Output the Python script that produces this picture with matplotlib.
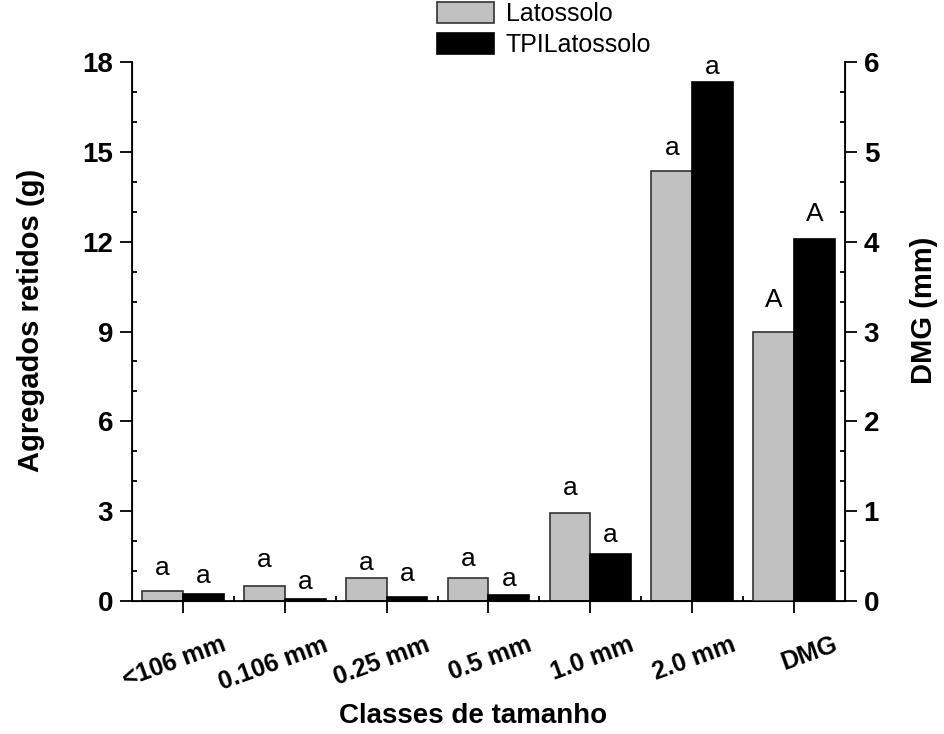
import numpy as np
import matplotlib
matplotlib.use('Agg')
import matplotlib.pyplot as plt
from matplotlib.ticker import MultipleLocator, FixedLocator
from matplotlib.transforms import ScaledTranslation

plt.rcParams['font.family'] = ['Liberation Sans', 'DejaVu Sans']

# Data
classes = ['<106 mm', '0.106 mm', '0.25 mm', '0.5 mm', '1.0 mm', '2.0 mm', 'DMG']
latossolo = [0.33, 0.49, 0.76, 0.77, 2.93, 14.37]   # g
tpi_latossolo = [0.23, 0.08, 0.13, 0.19, 1.57, 17.32]   # g
dmg_latossolo = 2.99   # mm
dmg_tpi = 4.03   # mm

# letters and the heights (baseline) where they sit
letters_lat = ['a', 'a', 'a', 'a', 'a', 'a']
letters_tpi = ['a', 'a', 'a', 'a', 'a', 'a']
letter_y_lat = [0.87, 1.14, 1.04, 1.17, 3.54, 14.9]
letter_y_tpi = [0.60, 0.40, 0.67, 0.50, 1.97, 17.6]
dmg_letters = ['A', 'A']
dmg_letter_y = [3.27, 4.23]

gray = '#c0c0c0'
w = 0.4

fig = plt.figure(figsize=(9.45, 7.34), dpi=100)
ax = fig.add_axes([132/945, 1 - 601/734, (845 - 132)/945, (601 - 62)/734])
ax2 = ax.twinx()

x = np.arange(len(latossolo))
ax.bar(x - w/2, latossolo, w, color=gray, edgecolor='#333333', linewidth=1.2, label='Latossolo')
ax.bar(x + w/2, tpi_latossolo, w, color='black', edgecolor='black', linewidth=1.2, label='TPILatossolo')

xd = len(latossolo)
ax2.bar(xd - w/2, dmg_latossolo, w, color=gray, edgecolor='#333333', linewidth=1.2)
ax2.bar(xd + w/2, dmg_tpi, w, color='black', edgecolor='black', linewidth=1.2)

for i in range(len(latossolo)):
    ax.text(x[i] - w/2, letter_y_lat[i], letters_lat[i], ha='center', va='baseline', fontsize=19)
    ax.text(x[i] + w/2, letter_y_tpi[i], letters_tpi[i], ha='center', va='baseline', fontsize=19)
ax2.text(xd - w/2, dmg_letter_y[0], dmg_letters[0], ha='center', va='baseline', fontsize=19)
ax2.text(xd + w/2, dmg_letter_y[1], dmg_letters[1], ha='center', va='baseline', fontsize=19)

ax.set_xlim(-0.5, len(classes) - 0.5)
ax.set_ylim(0, 18)
ax2.set_ylim(0, 6)

ax.spines['top'].set_visible(False)
ax2.spines['top'].set_visible(False)
for s in ['left', 'bottom']:
    ax.spines[s].set_linewidth(1.3)
ax2.spines['right'].set_linewidth(1.3)

ax.yaxis.set_major_locator(MultipleLocator(3))
ax.yaxis.set_minor_locator(MultipleLocator(1))
ax2.yaxis.set_major_locator(MultipleLocator(1))
ax2.yaxis.set_minor_locator(MultipleLocator(1/3))
ax.set_xticks(np.arange(len(classes)))
ax.xaxis.set_minor_locator(FixedLocator(np.arange(0.5, len(classes) - 1, 1)))

ax.tick_params(axis='both', which='major', direction='out', length=8.5, width=1.3, pad=5,
               labelsize=20)
ax.tick_params(axis='both', which='minor', direction='in', length=3.8, width=1.3)
ax.tick_params(axis='y', right=False, which='both')
ax2.tick_params(axis='y', which='major', direction='out', length=8.5, width=1.3, pad=5,
                labelsize=20)
ax2.tick_params(axis='y', which='minor', direction='in', length=3.8, width=1.3)

for lab in ax.get_yticklabels() + ax2.get_yticklabels():
    lab.set_fontweight('bold')

ax.set_xticklabels(classes, rotation=20, ha='right', va='top', rotation_mode='anchor',
                   fontsize=18, fontweight='bold')
off = ScaledTranslation(0.38, -0.13, fig.dpi_scale_trans)
for lab in ax.get_xticklabels():
    lab.set_transform(lab.get_transform() + off)

ax.set_ylabel('Agregados retidos (g)', fontsize=21, fontweight='bold', va='center')
ax.yaxis.set_label_coords(-0.142, 0.52)
ax2.set_ylabel('DMG (mm)', fontsize=21, fontweight='bold', va='center')
ax2.yaxis.set_label_coords(1.111, 0.54)
ax.set_xlabel('Classes de tamanho', fontsize=20, fontweight='bold', va='center')
ax.xaxis.set_label_coords(0.478, -0.213)

fig.legend(loc='upper left', bbox_to_anchor=(437/945, 1 - 2/734), frameon=False,
           fontsize=18, handlelength=2.3, handleheight=0.92, handletextpad=0.45,
           labelspacing=0.28, borderpad=0, borderaxespad=0)

fig.savefig('out.png', dpi=100)
